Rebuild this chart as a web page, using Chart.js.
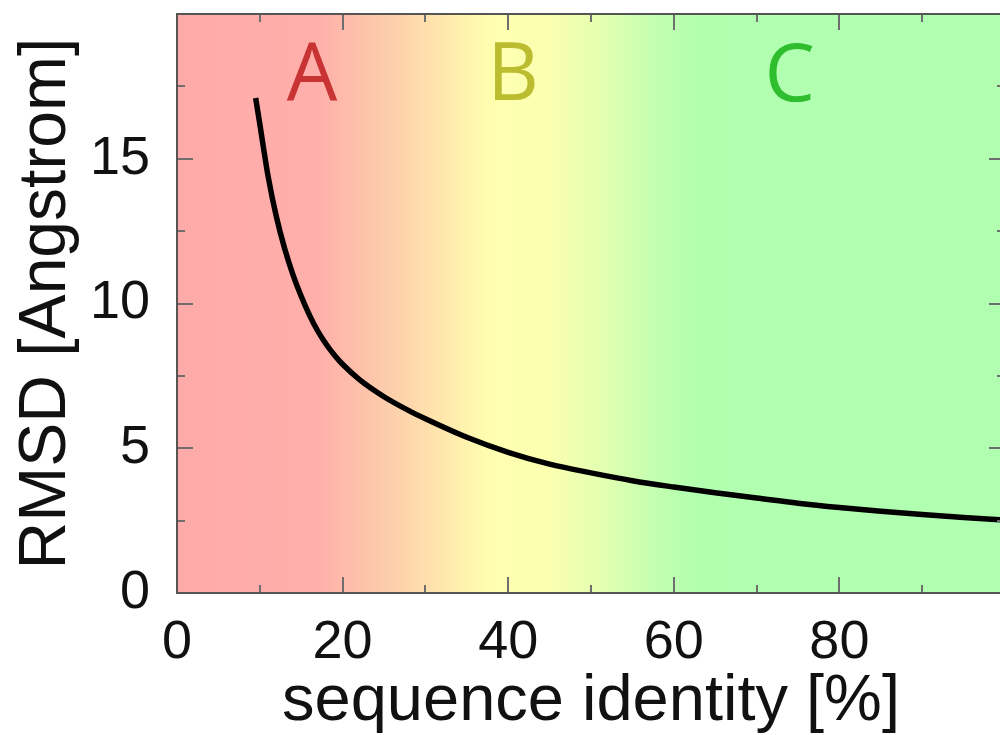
<!DOCTYPE html>
<html>
<head>
<meta charset="utf-8">
<script src="https://cdn.jsdelivr.net/npm/chart.js@4/dist/chart.umd.min.js"></script>
<style>
  html, body { margin: 0; padding: 0; background: #fff; overflow: hidden; }
</style>
</head>
<body>
<canvas id="chart" width="1006" height="735"></canvas>
<script>
// curve: sequence identity [%] -> RMSD [Angstrom]
const identity = [9.5, 10, 11, 12, 13, 14, 15, 16, 17, 18, 19, 20, 22, 25, 28, 30, 35, 40, 45, 50, 55, 60, 65, 70, 75, 80, 85, 90, 95, 100];
const rmsd = [17.1, 16.2, 14.4, 13.0, 11.9, 11.0, 10.25, 9.6, 9.05, 8.6, 8.22, 7.9, 7.38, 6.78, 6.3, 6.02, 5.38, 4.86, 4.45, 4.15, 3.88, 3.66, 3.46, 3.28, 3.1, 2.95, 2.82, 2.71, 2.61, 2.52];

const xMajorTicks = [0, 20, 40, 60, 80, 100];
const xMinorTicks = [10, 30, 50, 70, 90];
const xTickLabels = ['0', '20', '40', '60', '80'];
const yMajorTicks = [0, 5, 10, 15, 20];
const yMinorTicks = [2.5, 7.5, 12.5, 17.5];
const yTickLabels = ['0', '5', '10', '15'];

const regionNames = ['A', 'B', 'C'];

// styling / placement
const regionStyle = [
  { x: 16.3, y: 17.03, color: '#c83434' },
  { x: 40.6, y: 17.03, color: '#bcbc30' },
  { x: 74.0, y: 17.0, color: '#2ebe2e' }
];
const bandStops = [
  [0, '#ffaaaa'], [17, '#ffafaa'], [26, '#fdcfab'], [33, '#ffebad'], [38, '#ffffb0'],
  [45, '#fbffb0'], [52, '#e0ffb0'], [58, '#c2ffb0'], [63, '#b2ffb0'], [100, '#b0ffb0']
];

const backdrop = {
  id: 'backdrop',
  beforeDraw(chart) {
    const { ctx, chartArea: a, scales: { x } } = chart;
    ctx.save();
    ctx.fillStyle = '#fff';
    ctx.fillRect(0, 0, chart.width, chart.height);
    const x0 = x.getPixelForValue(0), x1 = x.getPixelForValue(100);
    const g = ctx.createLinearGradient(x0, 0, x1, 0);
    bandStops.forEach(([v, c]) => g.addColorStop(v / 100, c));
    ctx.fillStyle = g;
    ctx.fillRect(a.left, a.top, a.right - a.left, a.bottom - a.top);
    ctx.restore();
  }
};

const frame = {
  id: 'frame',
  afterDatasetsDraw(chart) {
    const { ctx, chartArea: a, scales: { x, y } } = chart;
    ctx.save();
    // region letters
    ctx.font = '80px "Open Sans"';
    ctx.textAlign = 'center';
    ctx.textBaseline = 'alphabetic';
    regionNames.forEach((name, i) => {
      const s = regionStyle[i];
      ctx.fillStyle = s.color;
      ctx.fillText(name, x.getPixelForValue(s.x), y.getPixelForValue(s.y));
    });
    // inward ticks on all four sides
    ctx.strokeStyle = '#6e6e6e';
    ctx.lineWidth = 2;
    ctx.beginPath();
    const xt = (v, len) => {
      const p = Math.round(x.getPixelForValue(v));
      ctx.moveTo(p, a.bottom); ctx.lineTo(p, a.bottom - len);
      ctx.moveTo(p, a.top); ctx.lineTo(p, a.top + len);
    };
    const yt = (v, len) => {
      const p = Math.round(y.getPixelForValue(v));
      ctx.moveTo(a.left, p); ctx.lineTo(a.left + len, p);
      ctx.moveTo(a.right, p); ctx.lineTo(a.right - len, p);
    };
    xMajorTicks.forEach(v => xt(v, 16));
    xMinorTicks.forEach(v => xt(v, 8));
    yMajorTicks.forEach(v => yt(v, 16));
    yMinorTicks.forEach(v => yt(v, 8));
    ctx.stroke();
    // box
    ctx.strokeStyle = '#555';
    ctx.lineWidth = 2;
    ctx.strokeRect(a.left, a.top, a.right - a.left, a.bottom - a.top);
    ctx.restore();
  }
};

new Chart(document.getElementById('chart'), {
  type: 'line',
  data: {
    datasets: [{
      data: identity.map((v, i) => ({ x: v, y: rmsd[i] })),
      borderColor: '#000',
      borderWidth: 5.5,
      pointRadius: 0,
      cubicInterpolationMode: 'monotone',
      fill: false
    }]
  },
  options: {
    responsive: false,
    animation: false,
    devicePixelRatio: 1,
    layout: { padding: { top: 14, right: 1, left: 0, bottom: 0 } },
    plugins: { legend: { display: false }, tooltip: { enabled: false } },
    scales: {
      x: {
        type: 'linear',
        min: 0,
        max: 100,
        afterBuildTicks(scale) {
          scale.ticks = xMajorTicks.map(v => ({ value: v }));
        },
        afterFit(scale) {
          scale.height = 142;
          scale.paddingLeft = 0;
          scale.paddingRight = 0;
        },
        grid: { display: false, drawTicks: false },
        border: { display: false },
        ticks: {
          padding: 18,
          color: '#111',
          font: { family: '"Liberation Sans", Arial, sans-serif', size: 54 },
          maxRotation: 0,
          autoSkip: false,
          callback: (v, i) => xTickLabels[i] || ''
        },
        title: {
          display: true,
          text: 'sequence identity [%]',
          color: '#111',
          font: { family: '"Liberation Sans", Arial, sans-serif', size: 65, lineHeight: 1 },
          padding: 0
        }
      },
      y: {
        type: 'linear',
        min: 0,
        max: 20,
        afterBuildTicks(scale) {
          scale.ticks = yMajorTicks.map(v => ({ value: v }));
        },
        afterFit(scale) {
          scale.width = 177;
          scale.paddingTop = 0;
          scale.paddingBottom = 0;
        },
        grid: { display: false, drawTicks: false },
        border: { display: false },
        ticks: {
          padding: 27,
          color: '#111',
          font: { family: '"Liberation Sans", Arial, sans-serif', size: 54 },
          autoSkip: false,
          callback: (v, i) => yTickLabels[i] || ''
        },
        title: {
          display: true,
          text: 'RMSD [Angstrom]',
          color: '#111',
          font: { family: '"Liberation Sans", Arial, sans-serif', size: 66, lineHeight: 1 },
          padding: { top: 14, bottom: 0 }
        }
      }
    }
  },
  plugins: [backdrop, frame]
});
</script>
</body>
</html>
